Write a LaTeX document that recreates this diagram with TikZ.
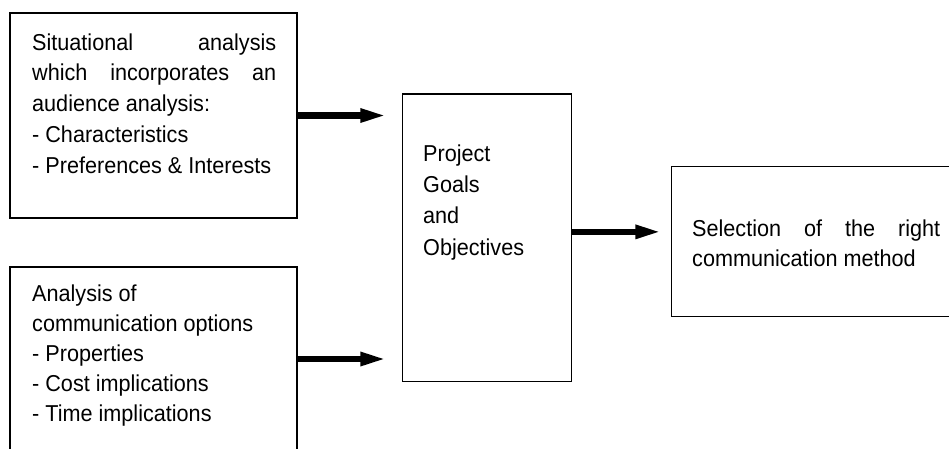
\documentclass[tikz,border=0pt]{standalone}
\usepackage{fontspec}
\setmainfont{Liberation Sans}[FakeStretch=0.94]
\usetikzlibrary{arrows.meta}
\begin{document}
\begin{tikzpicture}[x=1pt,y=-1pt,
  box/.style={draw=black, line width=1.4pt, rectangle, inner sep=0pt},
  txt/.style={anchor=base west, inner sep=0pt, align=left, font=\fontsize{23pt}{30.7pt}\selectfont},
  arr/.style={line width=6.5pt, -{Triangle[length=27pt,width=12.5pt]}}]
\fill[white] (0,0) rectangle (949,448);
\clip (0,0) rectangle (949,448);
% boxes
\node[box, minimum width=287pt, minimum height=205pt] (b1) at (153.5,115.5) {};
\node[box, minimum width=287pt, minimum height=184pt] (b2) at (153.5,359) {};
\node[box, minimum width=169pt, minimum height=287.7pt] (b3) at (487.2,237.85) {};
\node[box, minimum width=288.3pt, minimum height=150pt] (b4) at (815.85,241.7) {};
% texts (anchored at the baseline of their last line)
\node[txt] (t1) at (32,173) {\makebox[244pt][s]{Situational analysis}\\
  \makebox[244pt][s]{which incorporates an}\\
  audience analysis:\\
  - Characteristics\\
  - Preferences \& Interests};
\node[txt, font=\fontsize{23pt}{30pt}\selectfont] (t2) at (32,421.7) {Analysis of\\
  communication options\\
  - Properties\\
  - Cost implications\\
  - Time implications};
\node[txt, font=\fontsize{23pt}{31.3pt}\selectfont] (t3) at (423,255) {Project\\Goals\\and\\Objectives};
\node[txt, font=\fontsize{23pt}{30pt}\selectfont] (t4) at (692,266.7) {\makebox[248pt][s]{Selection of the right}\\
  communication method};
% arrows
\draw[arr, shorten >=14.7pt] (b1.east) -- (b1.east -| b3.west);
\draw[arr, shorten >=14.7pt] (b2.east) -- (b2.east -| b3.west);
\draw[arr, shorten >=8.7pt] ([yshift=6pt]b3.east) -- ([yshift=6pt]b3.east -| b4.west);
\end{tikzpicture}
\end{document}
